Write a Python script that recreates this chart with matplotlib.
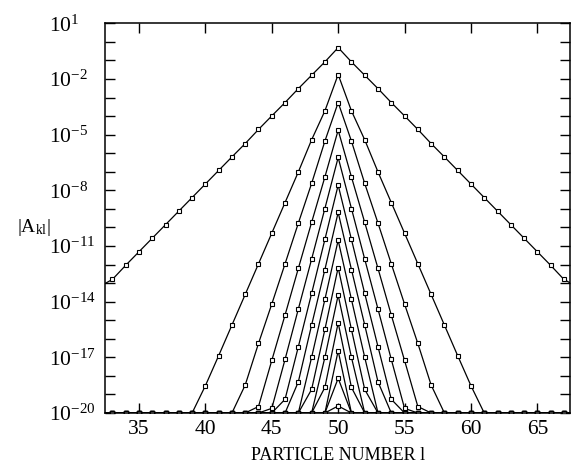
import matplotlib
matplotlib.use('Agg')
import matplotlib.pyplot as plt
import numpy as np

plt.rcParams['font.family'] = ['Liberation Serif', 'DejaVu Serif']
plt.rcParams['mathtext.fontset'] = 'custom'
plt.rcParams['mathtext.rm'] = 'Liberation Serif'
plt.rcParams['mathtext.it'] = 'Liberation Serif:italic'
plt.rcParams['mathtext.bf'] = 'Liberation Serif:bold'

# particle numbers
particle = list(range(32, 69))
floor_exp = -20  # values below the plotted floor sit at 10^-20

# log10|A_kl|: (first particle number, exponents)
c1_first = 32
c1 = [-13.2, -12.80, -12.04, -11.31, -10.58, -9.85, -9.12, -8.39, -7.66, -6.93,
      -6.20, -5.48, -4.72, -3.99, -3.27, -2.52, -1.80, -1.08, -0.31, -1.08,
      -1.80, -2.52, -3.27, -3.99, -4.72, -5.48, -6.20, -6.93, -7.66, -8.39,
      -9.12, -9.85, -10.58, -11.31, -12.04, -12.80, -13.2]
c2_first = 40
c2 = [-18.53, -16.91, -15.26, -13.61, -11.96, -10.31, -8.66, -7.01, -5.28, -3.72,
      -1.76, -3.72, -5.28, -7.01, -8.66, -10.31, -11.96, -13.61, -15.26, -16.91,
      -18.53]
c3_first = 43
c3 = [-18.49, -16.25, -14.13, -11.96, -9.77, -7.63, -5.35, -3.27, -5.35, -7.63,
      -9.77, -11.96, -14.13, -16.25, -18.49]
c4_first = 44
c4 = [-19.65, -17.17, -14.72, -12.21, -9.73, -7.28, -4.76, -7.28, -9.73, -12.21,
      -14.72, -17.17, -19.65]
c5_first = 45
c5 = [-19.75, -17.11, -14.40, -11.71, -8.98, -6.23, -8.98, -11.71, -14.40, -17.11,
      -19.75]
c6_first = 46
c6 = [-19.26, -16.43, -13.56, -10.65, -7.72, -10.65, -13.56, -16.43, -19.26]
c7_first = 47
c7 = [-18.32, -15.26, -12.27, -9.19, -12.27, -15.26, -18.32]
c8_first = 48
c8 = [-17.00, -13.88, -10.69, -13.88, -17.00]
c9_first = 48
c9 = [-18.73, -15.50, -12.16, -15.50, -18.73]
c10_first = 49
c10 = [-17.00, -13.65, -17.00]
c11_first = 49
c11 = [-18.62, -15.14, -18.62]
c12_first = 50
c12 = [-16.65]
c13_first = 50
c13 = [-18.13]
c14_first = 50
c14 = [-19.62]

curves = [(c1_first, c1), (c2_first, c2), (c3_first, c3), (c4_first, c4),
          (c5_first, c5), (c6_first, c6), (c7_first, c7), (c8_first, c8),
          (c9_first, c9), (c10_first, c10), (c11_first, c11), (c12_first, c12),
          (c13_first, c13), (c14_first, c14)]

x_ticks = [35, 40, 45, 50, 55, 60, 65]
y_tick_exps = list(range(-20, 2))
y_label_exps = [1, -2, -5, -8, -11, -14, -17, -20]

W, H = 571, 468
fig = plt.figure(figsize=(W / 100, H / 100), dpi=100)
ax = fig.add_axes([105 / W, 1 - 413 / H, (570 - 105) / W, (413 - 23.3) / H])

x = np.array(particle)
for first, exps in curves:
    e = np.full(len(x), float(floor_exp))
    i0 = first - particle[0]
    e[i0:i0 + len(exps)] = exps
    ax.plot(x, 10.0 ** e, color='black', lw=0.9, marker='s', ms=3.2,
            mfc='white', mec='black', mew=0.8, clip_on=True)

ax.set_yscale('log')
ax.set_xlim(32.44, 67.46)
ax.set_ylim(1e-20, 1e1)

ax.set_xticks(x_ticks)
ax.set_xticklabels([str(t) for t in x_ticks], fontsize=15.5)
ax.xaxis.set_minor_locator(matplotlib.ticker.NullLocator())
ax.set_yticks([10.0 ** k for k in y_tick_exps])
ax.set_yticklabels([r'$10^{%d}$' % k if k in y_label_exps else '' for k in y_tick_exps],
                   fontsize=15.5)
for lab in ax.get_yticklabels():
    lab.set_horizontalalignment('left')
ax.yaxis.set_minor_locator(matplotlib.ticker.NullLocator())
ax.tick_params(which='major', direction='in', length=7, width=1.0,
               top=True, right=True, color='black')
ax.tick_params(axis='x', pad=5)
ax.tick_params(axis='y', pad=56 * 0.72)
for sp in ax.spines.values():
    sp.set_linewidth(1.1)

ax.set_xlabel('PARTICLE NUMBER l', fontsize=13)
ax.xaxis.set_label_coords((338 - 105) / 465, -(447 - 413) / 390)
ax.set_ylabel(r'$|\mathrm{A}_{\mathrm{kl}}|$', fontsize=14, rotation=0)
ax.yaxis.set_label_coords((34 - 105) / 465, (413 - 238) / 390)

fig.savefig('out.png', dpi=100)
